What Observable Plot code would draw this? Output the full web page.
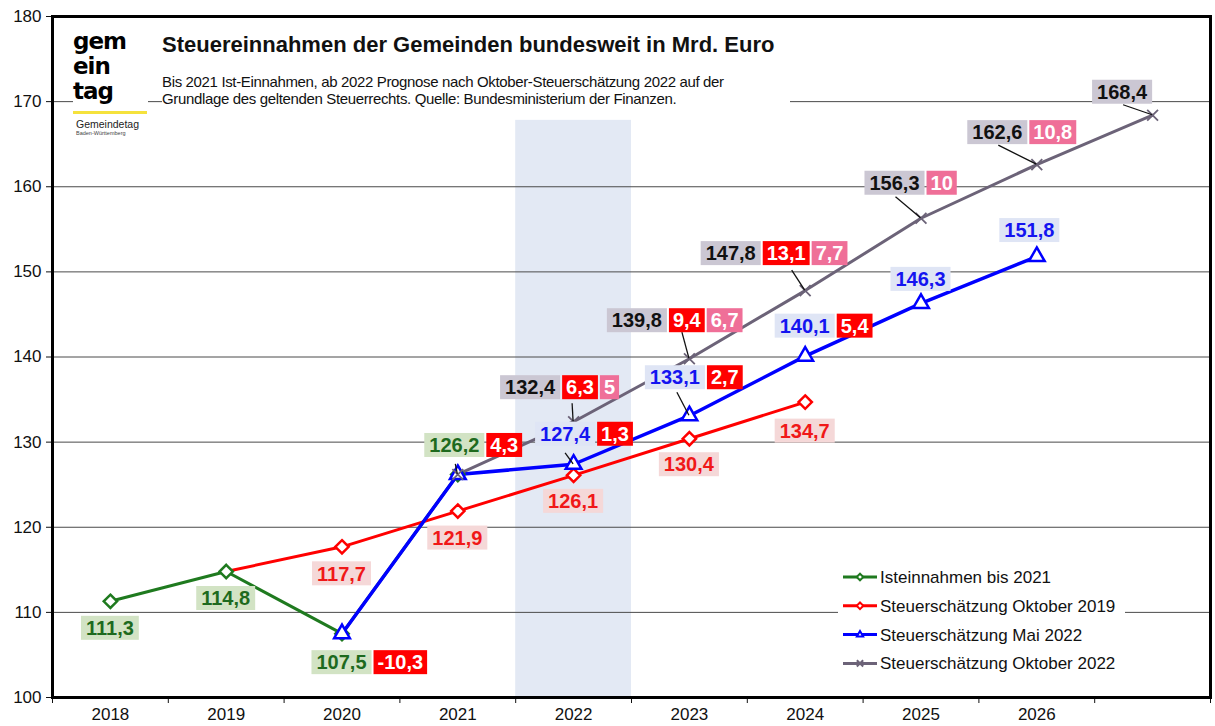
<!DOCTYPE html>
<html><head><meta charset="utf-8">
<script src="https://cdn.jsdelivr.net/npm/d3@7"></script>
<script src="https://cdn.jsdelivr.net/npm/@observablehq/plot@0.6"></script>
<style>
body{margin:0;background:#fff;font-family:"Liberation Sans",Arial,sans-serif}
#wrap{position:relative;width:1215px;height:726px;overflow:hidden}
#wrap svg{position:absolute;left:0;top:0}
.ov{position:absolute;background:#fff;color:#111;white-space:nowrap}
#title{left:162px;top:32px;font-weight:bold;font-size:22px;line-height:26px}
#sub{left:162px;top:73px;width:628px;font-size:15px;line-height:17px;letter-spacing:-0.35px}
#logo{left:73px;top:29px;width:75px;height:118px;text-align:left}
#logo .big{font-family:"DejaVu Sans";font-weight:bold;font-size:23px;line-height:25px;letter-spacing:-1px;color:#000}
#logo .bar{height:3px;background:#f5e23c;margin-top:7px;width:74px}
#logo .g{font-size:10.5px;line-height:12px;margin-top:4px;color:#222;padding-left:3px}
#logo .b{font-size:5.5px;line-height:7px;color:#444;padding-left:3px}
</style></head><body>
<div id="wrap">
</div>
<script>
// ---- data ----
const years = [2018, 2019, 2020, 2021, 2022, 2023, 2024, 2025, 2026, 2027];
const tickYears = [2018, 2019, 2020, 2021, 2022, 2023, 2024, 2025, 2026];
const yTicks = [100, 110, 120, 130, 140, 150, 160, 170, 180];
const gridValues = [110, 120, 130, 140, 150, 160, 170];

const istYears = [2018, 2019, 2020, 2021];
const istValues = [111.3, 114.8, 107.5, 126.2];

const okt2019Years = [2019, 2020, 2021, 2022, 2023, 2024];
const okt2019Values = [114.8, 117.7, 121.9, 126.1, 130.4, 134.7];

const mai2022Years = [2020, 2021, 2022, 2023, 2024, 2025, 2026];
const mai2022Values = [107.5, 126.2, 127.4, 133.1, 140.1, 146.3, 151.8];

const okt2022Years = [2021, 2022, 2023, 2024, 2025, 2026, 2027];
const okt2022Values = [126.2, 132.4, 139.8, 147.8, 156.3, 162.6, 168.4];

// differences shown in the coloured boxes
const istDiffYears = [2020, 2021];
const istDiffVsOkt2019 = [-10.3, 4.3];
const maiDiffYears = [2022, 2023, 2024];
const maiDiffVsOkt2019 = [1.3, 2.7, 5.4];
const oktDiffYears = [2022, 2023, 2024];
const oktDiffVsOkt2019 = [6.3, 9.4, 13.1];
const oktMaiDiffYears = [2022, 2023, 2024, 2025, 2026];
const oktDiffVsMai2022 = [5, 6.7, 7.7, 10, 10.8];

const shadeYear = 2022;
const shadeTop = 167.8;

const seriesNames = ["Isteinnahmen bis 2021", "Steuerschätzung Oktober 2019", "Steuerschätzung Mai 2022", "Steuerschätzung Oktober 2022"];

// ---- styles ----
const C = {
  green: "#1f7a1f", greenText: "#1e6a1e", greenBg: "#d2e3c4",
  red: "#ff0000", redText: "#f01818", redBg: "#f5d8d8",
  blue: "#0000ff", blueText: "#1414f0", blueBg: "#dfe5f5",
  gray: "#6c6378", grayText: "#111111", grayBg: "#cbc7d3",
  box: "#ff0000", pink: "#ef6f98"
};
const FONT = '"Liberation Sans", Arial, sans-serif';

const tbl = (ys, vs) => ys.map((y, i) => ({year: y, value: vs[i]}));
const ist = tbl(istYears, istValues);
const okt19 = tbl(okt2019Years, okt2019Values);
const mai22 = tbl(mai2022Years, mai2022Values);
const okt22 = tbl(okt2022Years, okt2022Values);

const fmt = v => Number.isInteger(v) ? String(v) : v.toFixed(1).replace(".", ",");
const lookup = (ys, vs, y) => { const i = ys.indexOf(y); return i < 0 ? null : vs[i]; };

// label layout (pixel offsets relative to the point)
const layout = {
  ist: {2018: {dx: 0, dy: 27}, 2019: {dx: 0, dy: 27}, 2020: {dx: 0, dy: 29}, 2021: {dx: -3, dy: -29, lead: [-2, -10]}},
  okt19: {2020: {dx: 0, dy: 27}, 2021: {dx: 0, dy: 27}, 2022: {dx: 0, dy: 26}, 2023: {dx: 0, dy: 26}, 2024: {dx: 0, dy: 29}},
  mai22: {2022: {dx: -8, dy: -30, lead: [-8, -11]}, 2023: {dx: -14, dy: -38, lead: [-12, -23]}, 2024: {dx: 0, dy: -30}, 2025: {dx: 0, dy: -24}, 2026: {dx: -7, dy: -26}},
  okt22: {2022: {dx: -43, dy: -34, lead: [-1, -18]}, 2023: {dx: -52, dy: -38, lead: [-7, -26]}, 2024: {dx: -74, dy: -37, lead: [-13, -20]},
          2025: {dx: -26, dy: -35, lead: [-25, -21]}, 2026: {dx: -39, dy: -32, lead: [-38, -19]}, 2027: {dx: -30, dy: -23, lead: [-29, -10]}}
};

function buildLabels() {
  const out = [];
  const add = (key, data, color, bg, extra) => {
    for (const d of data) {
      const L = layout[key][d.year];
      if (!L) continue;
      const parts = [{text: fmt(d.value), color, bg, pad: 5}];
      for (const [ys, vs, boxBg] of extra) {
        const v = lookup(ys, vs, d.year);
        if (v != null) parts.push({text: fmt(v), color: "#fff", bg: boxBg, pad: 4});
      }
      out.push({year: d.year, value: d.value, parts, ...L});
    }
  };
  add("ist", ist, C.greenText, C.greenBg, [[istDiffYears, istDiffVsOkt2019, C.box]]);
  add("okt19", okt19, C.redText, C.redBg, []);
  add("mai22", mai22, C.blueText, C.blueBg, [[maiDiffYears, maiDiffVsOkt2019, C.box]]);
  add("okt22", okt22, C.grayText, C.grayBg, [[oktDiffYears, oktDiffVsOkt2019, C.box], [oktMaiDiffYears, oktDiffVsMai2022, C.pink]]);
  return out;
}
const labels = buildLabels();

const ctx = document.createElement("canvas").getContext("2d");
const LABEL_FONT = `bold 20px ${FONT}`;
function textWidth(t) { ctx.font = LABEL_FONT; return ctx.measureText(t).width; }

function annotationMark(index, scales) {
  const g = d3.create("svg:g");
  const lead = g.append("g").attr("stroke", "#111").attr("stroke-width", 1.3);
  for (const a of labels) {
    if (!a.lead) continue;
    const px = scales.x(a.year), py = scales.y(a.value);
    lead.append("line").attr("x1", px + a.lead[0]).attr("y1", py + a.lead[1]).attr("x2", px).attr("y2", py);
  }
  const H = 24, gap = 2;
  for (const a of labels) {
    const px = scales.x(a.year), py = scales.y(a.value);
    const widths = a.parts.map(p => textWidth(p.text) + 2 * p.pad);
    let x = px + a.dx - widths[0] / 2;
    const cy = py + a.dy;
    a.parts.forEach((p, i) => {
      g.append("rect").attr("x", x).attr("y", cy - H / 2).attr("width", widths[i]).attr("height", H).attr("fill", p.bg);
      g.append("text").attr("x", x + widths[i] / 2).attr("y", cy).attr("dy", "0.36em")
        .attr("text-anchor", "middle").attr("font-family", FONT).attr("font-weight", "bold").attr("font-size", 20)
        .attr("fill", p.color).text(p.text);
      x += widths[i] + gap;
    });
  }
  return g.node();
}

const legendStyles = [
  {stroke: C.green, sym: "diamond"},
  {stroke: C.red, sym: "diamond"},
  {stroke: C.blue, sym: "triangle"},
  {stroke: C.gray, sym: "times"}
];
function legendMark() {
  const g = d3.create("svg:g");
  g.append("rect").attr("x", 838).attr("y", 563).attr("width", 287).attr("height", 114).attr("fill", "#fff");
  seriesNames.forEach((name, i) => {
    const y = 577 + i * 28.8, s = legendStyles[i];
    g.append("line").attr("x1", 843).attr("x2", 877).attr("y1", y).attr("y2", y).attr("stroke", s.stroke).attr("stroke-width", 3);
    const sym = s.sym === "diamond" ? d3.symbolDiamond2 : s.sym === "triangle" ? d3.symbolTriangle2 : d3.symbolTimes;
    g.append("path").attr("transform", `translate(860,${y})`).attr("d", d3.symbol(sym, 28)())
      .attr("fill", "#fff").attr("stroke", s.stroke).attr("stroke-width", 2);
    g.append("text").attr("x", 880).attr("y", y).attr("dy", "0.35em").attr("text-anchor", "start")
      .attr("font-family", FONT).attr("font-size", 17).attr("fill", "#111").text(name);
  });
  return g.node();
}

const plot = Plot.plot({
  width: 1215, height: 726,
  marginLeft: 52, marginRight: 5, marginTop: 16, marginBottom: 29,
  x: {domain: [years[0] - 0.5, years[years.length - 1] + 0.5]},
  y: {domain: [yTicks[0], yTicks[yTicks.length - 1]]},
  style: {fontFamily: FONT, fontSize: "17px", color: "#111", background: "transparent"},
  marks: [
    Plot.rect([shadeYear], {x1: d => d - 0.5, x2: d => d + 0.5, y1: yTicks[0], y2: shadeTop, fill: "#e3e9f4"}),
    Plot.ruleY(gridValues, {stroke: "#4a4a4a", strokeWidth: 1}),
    Plot.axisY({ticks: yTicks, tickSize: 6, tickPadding: 5, label: null, fontSize: 17}),
    Plot.axisX({ticks: tickYears, tickSize: 0, tickPadding: 10, tickFormat: d => String(d), label: null, fontSize: 17}),
    Plot.axisX({ticks: years.map(y => y - 0.5).concat([years[years.length - 1] + 0.5]), tickSize: 6, tickFormat: () => "", label: null}),
    Plot.line(ist, {x: "year", y: "value", stroke: C.green, strokeWidth: 3}),
    Plot.line(okt19, {x: "year", y: "value", stroke: C.red, strokeWidth: 3}),
    Plot.line(mai22, {x: "year", y: "value", stroke: C.blue, strokeWidth: 3.5}),
    Plot.line(okt22, {x: "year", y: "value", stroke: C.gray, strokeWidth: 3}),
    Plot.dot(ist, {x: "year", y: "value", symbol: "diamond2", r: 6, stroke: C.green, strokeWidth: 2.5, fill: "#fff"}),
    Plot.dot(okt19.slice(1), {x: "year", y: "value", symbol: "diamond2", r: 6, stroke: C.red, strokeWidth: 2.5, fill: "#fff"}),
    Plot.dot(mai22, {x: "year", y: "value", symbol: "triangle2", r: 7.5, stroke: C.blue, strokeWidth: 2.5, fill: "#fff"}),
    Plot.dot(okt22, {x: "year", y: "value", symbol: "times", r: 5, stroke: C.gray, strokeWidth: 1.8}),
    annotationMark,
    legendMark,
    Plot.frame({stroke: "#000", strokeWidth: 3})
  ]
});

const wrap = document.getElementById("wrap");
wrap.append(plot);
wrap.insertAdjacentHTML("beforeend", `
<div class="ov" id="logo"><div class="big">gem<br>ein<br>tag</div><div class="bar"></div><div class="g">Gemeindetag</div><div class="b">Baden-Württemberg</div></div>
<div class="ov" id="title">Steuereinnahmen der Gemeinden bundesweit in Mrd. Euro</div>
<div class="ov" id="sub">Bis 2021 Ist-Einnahmen, ab 2022 Prognose nach Oktober-Steuerschätzung 2022 auf der<br>Grundlage des geltenden Steuerrechts. Quelle: Bundesministerium der Finanzen.</div>
`);
</script>
</body></html>
